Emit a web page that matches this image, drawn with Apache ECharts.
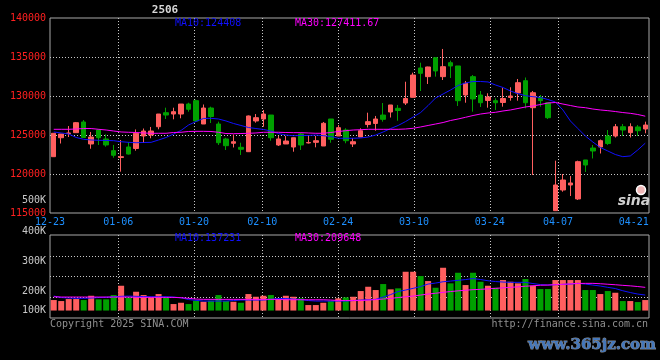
<!DOCTYPE html>
<html>
<head>
<meta charset="utf-8">
<script src="https://cdn.jsdelivr.net/npm/echarts@6/dist/echarts.min.js"></script>
<style>
html,body{margin:0;padding:0;background:#000;}
#chart{width:660px;height:360px;}
</style>
</head>
<body>
<div id="chart"></div>
<script>
const dates = ['12-23','12-24','12-25','12-26','12-27','12-30','12-31',
'01-02','01-03','01-06','01-07','01-08','01-09','01-10','01-13','01-14','01-15','01-16','01-17','01-20','01-21','01-22','01-23','01-24','01-27',
'02-05','02-06','02-07','02-10','02-11','02-12','02-13','02-14','02-17','02-18','02-19','02-20','02-21','02-24','02-25','02-26','02-27','02-28',
'03-03','03-04','03-05','03-06','03-07','03-10','03-11','03-12','03-13','03-14','03-17','03-18','03-19','03-20','03-21','03-24','03-25','03-26','03-27','03-28','03-31',
'04-01','04-02','04-03','04-07','04-08','04-09','04-10','04-11','04-14','04-15','04-16','04-17','04-18','04-21','04-22','04-23'];

const openP = [122220,124650,125190,125300,126670,123850,125640,124490,122990,122120,
123460,123270,124870,125000,126060,127860,127690,127690,128970,129400,
126410,128460,126410,124490,123940,123420,122860,126800,127050,127560,
123720,123850,123460,125130,123980,124060,123590,127050,124870,125640,
123850,124740,126350,126480,127560,127950,128420,129100,129830,133590,
132480,134910,132480,134270,133850,130130,132480,130130,129420,129400,
129170,129810,130390,131960,128500,129830,129140,115300,117950,118590,
116800,121800,123330,123460,124870,124870,126060,125300,126030,125770];
const closeP = [125220,125130,125260,126580,124680,124740,124650,123720,122400,122220,
122560,125220,125510,125510,127690,127560,127990,128970,128300,126800,
128460,127370,124010,123630,124140,123170,127440,127220,127690,124650,
124490,124230,124650,123720,124040,124270,126500,124450,125940,124270,
124140,125550,126710,127050,127010,128850,128140,129680,132690,132910,
133720,133210,133760,133850,129400,131630,129620,129140,129870,129140,
129680,130000,131710,129140,130420,129400,127220,118590,119230,118850,
121580,121150,122950,124270,123910,126060,125640,126060,125550,126280];
const lowP = [122220,123910,124740,125260,124650,123240,123720,123500,122090,120300,
122500,122990,123980,124580,125730,127050,127010,127140,127990,126670,
126410,126540,123720,123080,123400,122440,122820,126580,126060,124270,
123590,123850,122860,123080,123910,123420,123590,124010,124870,123940,
123460,124740,125960,125550,126710,127240,126830,128850,129810,130640,
131540,132480,132050,132310,128720,129140,127990,128590,128500,128210,
128630,129400,129400,128420,119870,128630,127050,115260,117730,117180,
116670,120260,121990,122630,123720,124680,124870,124680,124870,125220];
const highP = [125220,125130,126150,126670,126920,125390,125770,125090,123720,124360,
124100,125710,125830,126030,127690,128500,128500,128970,129140,129530,
128910,128630,126710,124650,125060,124010,127500,127690,128210,127560,
124870,124870,124650,125260,124870,124870,126670,127050,126280,125860,
124620,125860,127860,127440,129100,128850,128850,131830,132990,134270,
133760,134910,136030,134530,133850,131920,132690,130640,130350,129710,
131060,131120,132180,132370,130640,130130,129140,121710,120000,119740,
121710,121800,123720,124420,125640,126410,126410,126500,126280,126710];

const ma10 = [125390,125260,125130,124680,124450,124360,124320,124300,124270,124140,
124060,124010,124040,124060,124360,124680,125130,125580,126280,126730,
127120,127140,127050,126800,126480,126220,125960,125830,125710,125510,
125190,125000,124910,124940,124940,125000,124910,124810,124580,124580,
124580,124620,124740,125000,125390,125830,126220,126730,127310,127880,
128780,129740,130260,130770,131350,131670,131860,131860,131800,131410,
131090,130640,130300,130040,129910,129810,129550,129230,128210,126800,
125830,124870,124100,123400,122950,122500,122220,122310,123080,123950];
const ma30 = [125730,125730,125730,125770,125830,125830,125730,125640,125510,125390,
125350,125320,125260,125220,125220,125220,125320,125350,125450,125470,
125470,125450,125350,125190,125170,125190,125220,125260,125350,125350,
125350,125320,125300,125300,125260,125220,125220,125320,125450,125550,
125640,125680,125730,125730,125730,125730,125730,125770,125860,126030,
126220,126410,126600,126860,127050,127270,127500,127690,127820,127910,
128080,128210,128400,128590,128720,128910,129100,129170,128970,128780,
128590,128500,128330,128210,128120,128010,127880,127780,127630,127410];

const volume = [98700,89300,108100,108100,98700,139100,105300,105300,145700,233100,
120300,176700,145700,124100,155100,120300,61100,73300,61100,92100,
82700,92100,145700,89300,82700,73300,155100,129700,139100,145700,
108100,139100,129700,114700,51700,51700,73300,89300,114700,124100,
129700,183300,223700,192700,249000,199200,208600,364600,364600,324200,
277200,214300,402200,255600,355200,239600,355200,270700,233100,214300,
286600,270700,255600,296000,233100,202100,202100,286600,286600,286600,
286600,192700,192700,155100,183300,167300,89300,89300,79900,98700];
const volMa10 = [136300,122200,117500,114700,114700,117500,122200,124100,129700,133500,
136300,133500,131600,129700,129700,129700,126900,120300,103400,95900,
89300,89300,89300,89300,94000,98700,98700,98700,98700,105300,
112800,112800,108100,103400,94000,89300,89300,89300,89300,89300,
94000,98700,101500,105300,126900,150400,178600,192700,208600,225600,
249000,258400,270700,277200,283800,291300,300700,291300,280100,272500,
267800,265000,265000,265000,253700,244300,239600,242500,246200,249000,
255600,249000,239600,230300,218000,206800,186100,169200,155100,145700];
const volMa30 = [129700,126900,126900,126900,126900,126900,126900,126900,126900,126900,
126900,124100,124100,124100,124100,124100,124100,120300,114700,108100,
105300,105300,105300,105300,105300,105300,105300,105300,105300,105300,
105300,101500,101500,101500,101500,101500,101500,98700,94000,94000,
94000,94000,98700,103400,108100,114700,122200,129700,136300,145700,
155100,162600,171000,178600,185100,190800,196400,199200,203900,208600,
213300,218000,222700,228400,233100,237800,239600,243400,246200,250900,
254700,255600,255600,251900,247200,242500,236800,232100,225600,218000];

const priceTicks = [115000,120000,125000,130000,135000,140000];
const volTickLabels = ['400K','300K','200K','100K'];
const labelIdx = [0,9,19,28,38,48,58,67,77];
const gridIdx = [9,19,28,38,48,58,67];

const UP = '#ff5f5f', DOWN = '#00a000';
const MONO = '"DejaVu Sans Mono", "Liberation Mono", monospace';
const dotted = {color:'#c8c8c8', type:[1,2], width:1};

const kData = dates.map((d,i)=>[openP[i], closeP[i], lowP[i], highP[i]]);
const volData = volume.map((v,i)=>({value:v, itemStyle:{color: closeP[i] >= openP[i] ? UP : DOWN}}));

const chart = echarts.init(document.getElementById('chart'), null, {renderer:'canvas'});
const hidden = {show:false};
const txt = (text, x, y, fill, align, font) => ({
  type:'text', x:x, y:y, z:100,
  style:{text:text, fill:fill, font:font || ('10px ' + MONO), align:align||'left', verticalAlign:'middle'}
});

chart.setOption({
  backgroundColor:'#000',
  animation:false,
  grid:[
    {left:50, top:18, width:599, height:195, show:true, borderColor:'#a8a8a8', borderWidth:1, backgroundColor:'transparent'},
    {left:50, top:235, width:599, height:83, show:true, borderColor:'#a8a8a8', borderWidth:1, backgroundColor:'transparent'}
  ],
  xAxis:[
    {type:'category', gridIndex:0, position:'top', data:dates, boundaryGap:true, axisLine:hidden, axisTick:hidden, axisLabel:hidden, splitLine:hidden},
    {type:'category', gridIndex:0, position:'bottom', data:dates, boundaryGap:false, axisLine:hidden, axisTick:hidden,
      axisLabel:{show:true, interval:(i)=>labelIdx.includes(i), color:'#1e90ff', fontSize:10, fontFamily:MONO, margin:4},
      splitLine:{show:true, interval:(i)=>gridIdx.includes(i), lineStyle:dotted}},
    {type:'category', gridIndex:1, position:'top', data:dates, boundaryGap:true, axisLine:hidden, axisTick:hidden, axisLabel:hidden, splitLine:hidden},
    {type:'category', gridIndex:1, position:'bottom', data:dates, boundaryGap:false, axisLine:hidden, axisTick:hidden, axisLabel:hidden,
      splitLine:{show:true, interval:(i)=>gridIdx.includes(i), lineStyle:dotted}}
  ],
  yAxis:[
    {type:'value', gridIndex:0, min:priceTicks[0], max:priceTicks[priceTicks.length-1], interval:5000,
      axisLine:hidden, axisTick:hidden,
      axisLabel:{color:'#ff2020', fontSize:10, fontFamily:MONO, margin:4, formatter:(v)=>String(v)},
      splitLine:{show:true, showMinLine:false, showMaxLine:false, lineStyle:dotted}},
    {type:'value', gridIndex:1, min:-70000, max:710000, show:false, splitLine:hidden},
    {type:'value', gridIndex:1, position:'right', min:0, max:4, interval:1, axisLine:hidden, axisTick:hidden, axisLabel:hidden,
      splitLine:{show:true, showMinLine:false, showMaxLine:false, lineStyle:dotted}}
  ],
  series:[
    {type:'candlestick', name:'K', xAxisIndex:0, yAxisIndex:0, data:kData, barWidth:5,
      itemStyle:{color:UP, color0:DOWN, borderColor:UP, borderColor0:DOWN, borderWidth:1}},
    {type:'line', name:'MA10', xAxisIndex:0, yAxisIndex:0, data:ma10, symbol:'none', lineStyle:{color:'#1010ff', width:1}, itemStyle:{color:'#1010ff'}, z:5},
    {type:'line', name:'MA30', xAxisIndex:0, yAxisIndex:0, data:ma30, symbol:'none', lineStyle:{color:'#ff00ff', width:1}, itemStyle:{color:'#ff00ff'}, z:5},
    {type:'bar', name:'VOL', xAxisIndex:2, yAxisIndex:1, data:volData, barWidth:6},
    {type:'line', name:'VMA10', xAxisIndex:2, yAxisIndex:1, data:volMa10, symbol:'none', lineStyle:{color:'#1010ff', width:1}, z:5},
    {type:'line', name:'VMA30', xAxisIndex:2, yAxisIndex:1, data:volMa30, symbol:'none', lineStyle:{color:'#ff00ff', width:1}, z:5}
  ],
  graphic:[
    txt('2506', 165, 10, '#d8d8d8', 'center', 'bold 11px ' + MONO),
    txt('MA10:124408', 175, 23, '#1010ff'),
    txt('MA30:127411.67', 295, 23, '#ff00ff'),
    txt('500K', 46, 200, '#c8c8c8', 'right'),
    txt(volTickLabels[0], 46, 231, '#c8c8c8', 'right'),
    txt(volTickLabels[1], 46, 261, '#c8c8c8', 'right'),
    txt(volTickLabels[2], 46, 291, '#c8c8c8', 'right'),
    txt(volTickLabels[3], 46, 310, '#c8c8c8', 'right'),
    txt('MA10:137231', 175, 238, '#1010ff'),
    txt('MA30:209648', 295, 238, '#ff00ff'),
    txt('Copyright 2025 SINA.COM', 50, 324, '#909090'),
    txt('http://finance.sina.com.cn', 648, 324, '#909090', 'right'),
    {type:'circle', shape:{cx:641, cy:190, r:4.5}, style:{fill:'#f0b8b8', stroke:'#ffffff', lineWidth:1.5}, z:90},
    txt('sina', 634, 201, '#d0d0d0', 'center', 'italic bold 14px "DejaVu Sans"'),
    {type:'text', x:592, y:345, z:90, style:{text:'www.365jz.com', fill:'#4477bb', stroke:'#888888', lineWidth:1, font:'bold 15px "DejaVu Serif"', align:'center', verticalAlign:'middle'}}
  ]
});
</script>
</body>
</html>
